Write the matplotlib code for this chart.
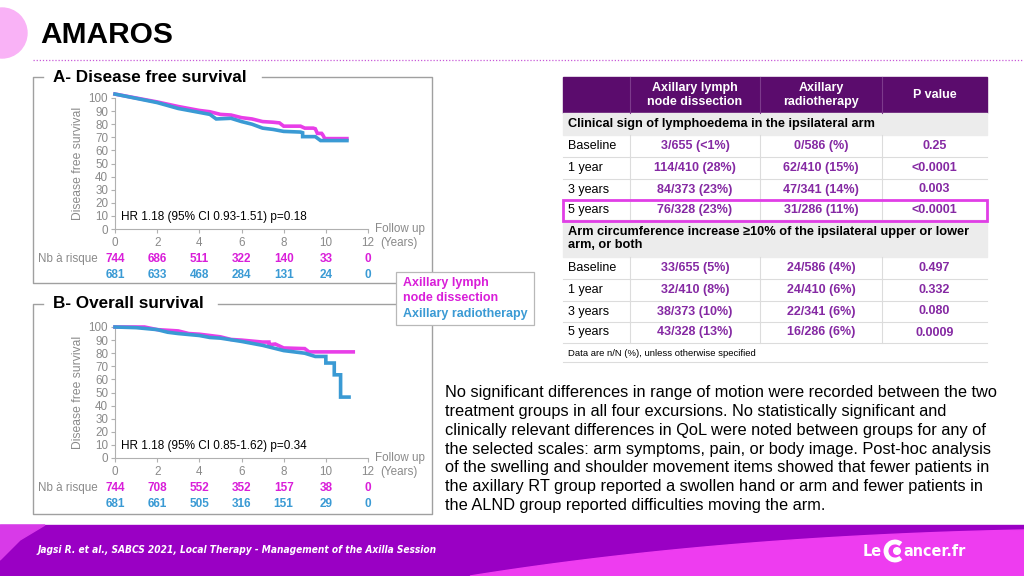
import numpy as np
import matplotlib
matplotlib.use('Agg')
import matplotlib.pyplot as plt
from matplotlib.patches import Rectangle, Circle, Polygon, Arc

plt.rcParams['font.family'] = ['Liberation Sans', 'DejaVu Sans']

W, H = 1024, 576

# ---- Kaplan-Meier curves (years, %); repeated times are drops
dfs_alnd_t = [0, 2, 3, 4, 4.5, 5, 5.5, 6, 6.5, 7, 7.5, 7.8, 8, 8.8, 9.0, 9.4, 9.5, 9.6, 9.8, 9.85, 9.95, 11]
dfs_alnd_s = [103, 97, 93.5, 90.5, 89.5, 87.5, 87, 85, 84, 82, 81.5, 81, 78.5, 78.5, 77, 77, 76.5, 73, 73, 72, 69, 69]
dfs_rt_t = [0, 2, 3, 4, 4.5, 4.8, 5.5, 6, 6.5, 7, 7.5, 8, 8.8, 8.9, 8.9, 9.5, 9.75, 11]
dfs_rt_s = [103, 96.5, 92, 89, 87.5, 84, 84.5, 82, 80, 77, 76, 74.5, 74, 73.5, 70.5, 70.5, 67.5, 67.5]

os_alnd_t = [0, 1.4, 2, 3, 3.5, 4, 5, 5.5, 6, 7, 7.3, 7.3, 7.6, 8, 9, 9.2, 11.3]
os_alnd_s = [100, 100, 98, 97, 95, 94.5, 92.5, 90.5, 90, 88.5, 88.5, 86.5, 87, 84, 83.5, 81, 81]
os_rt_t = [0, 1, 2, 2.5, 3, 4, 4.5, 5, 6, 7, 7.5, 8, 9, 9.5, 10, 10, 10.4, 10.4, 10.7, 10.7, 11.1]
os_rt_s = [100, 99.5, 98, 96, 95, 93.5, 92, 91.5, 89, 86, 84, 82, 80, 77.5, 77.5, 72.5, 72.5, 63.5, 63.5, 46.5, 46.5]

risk_years = [0, 2, 4, 6, 8, 10, 12]
dfs_risk_alnd = [744, 686, 511, 322, 140, 33, 0]
dfs_risk_rt = [681, 633, 468, 284, 131, 24, 0]
os_risk_alnd = [744, 708, 552, 352, 157, 38, 0]
os_risk_rt = [681, 661, 505, 316, 151, 29, 0]

# ---- table data
table_cols = ['', 'Axillary lymph\nnode dissection', 'Axillary\nradiotherapy', 'P value']
row_labels = ['Baseline', '1 year', '3 years', '5 years']
lymph_alnd = ['3/655 (<1%)', '114/410 (28%)', '84/373 (23%)', '76/328 (23%)']
lymph_rt = ['0/586 (%)', '62/410 (15%)', '47/341 (14%)', '31/286 (11%)']
lymph_p = ['0.25', '<0.0001', '0.003', '<0.0001']
circ_alnd = ['33/655 (5%)', '32/410 (8%)', '38/373 (10%)', '43/328 (13%)']
circ_rt = ['24/586 (4%)', '24/410 (6%)', '22/341 (6%)', '16/286 (6%)']
circ_p = ['0.497', '0.332', '0.080', '0.0009']

paragraph = [
    'No significant differences in range of motion were recorded between the two',
    'treatment groups in all four excursions. No statistically significant and',
    'clinically relevant differences in QoL were noted between groups for any of',
    'the selected scales: arm symptoms, pain, or body image. Post-hoc analysis',
    'of the swelling and shoulder movement items showed that fewer patients in',
    'the axillary RT group reported a swollen hand or arm and fewer patients in',
    'the ALND group reported difficulties moving the arm.',
]

MAG = '#e83ee8'
MAGT = '#d91ed9'
BLUE = '#3a9ad4'
GRAY = '#8a8a8a'
PURP = '#5b0c6d'
VAL = '#8529a3'

fig = plt.figure(figsize=(W / 100, H / 100), dpi=100)
bg = fig.add_axes([0, 0, 1, 1], zorder=0)
bg.set_xlim(0, W)
bg.set_ylim(H, 0)
bg.axis('off')

# header
bg.add_patch(Circle((2, 33), 25, color='#f9b2f6', zorder=1))
bg.text(40, 35, 'AMAROS', fontsize=21.5, fontweight='bold', va='center', ha='left')
bg.plot([33, W], [60, 60], color='#c85ad8', lw=0.9, ls=(0, (1, 1.5)))


def panel_frame(top, bottom, title, title_end):
    c = '#a0a0a0'
    bg.plot([43, 33, 33, 432, 432, title_end], [top, top, bottom, bottom, top, top], color=c, lw=1)
    bg.text(53, top, title, fontsize=12.3, fontweight='bold', va='center', ha='left')


panel_frame(77, 283, 'A- Disease free survival', 262)
panel_frame(304, 514, 'B- Overall survival', 218)


def km_axes(top, bottom, t1, s1, t2, s2, r1, r2, hr):
    ax = fig.add_axes([115 / W, 1 - bottom / H, (368 - 115) / W, (bottom - top) / H], zorder=1)
    ax.patch.set_alpha(0)
    ax.plot(t1, s1, color=MAG, lw=2.6, clip_on=False, zorder=3, solid_joinstyle='miter')
    ax.plot(t2, s2, color=BLUE, lw=2.6, clip_on=False, zorder=4, solid_joinstyle='miter')
    ax.set_xlim(0, 12)
    ax.set_ylim(0, 100)
    ax.set_xticks(range(0, 13, 2))
    ax.set_yticks(range(0, 101, 10))
    for s in ['top', 'right']:
        ax.spines[s].set_visible(False)
    for s in ['left', 'bottom']:
        ax.spines[s].set_color('#b0b0b0')
        ax.spines[s].set_linewidth(0.8)
    ax.tick_params(colors='#b0b0b0', labelcolor=GRAY, labelsize=8.4, length=3, width=0.8)
    ax.tick_params(axis='x', pad=3)
    ax.tick_params(axis='y', pad=2)
    ax.set_ylabel('Disease free survival', color=GRAY, fontsize=8.7, labelpad=3)
    ax.text(0.3, 9, hr, fontsize=8.5, va='center', ha='left')
    ax.text(12.35, 0, 'Follow up', color=GRAY, fontsize=8.4, va='center', ha='left', clip_on=False)
    ax.text(12.6, -11, '(Years)', color=GRAY, fontsize=8.4, va='center', ha='left', clip_on=False)
    ax.text(-0.8, -23, 'Nb à risque', color=GRAY, fontsize=8.4, va='center', ha='right', clip_on=False)
    for x, a, b in zip(risk_years, r1, r2):
        ax.text(x, -23, str(a), color=MAGT, fontsize=8.5, fontweight='bold', ha='center', va='center', clip_on=False)
        ax.text(x, -35.3, str(b), color=BLUE, fontsize=8.5, fontweight='bold', ha='center', va='center', clip_on=False)
    return ax


km_axes(98, 229, dfs_alnd_t, dfs_alnd_s, dfs_rt_t, dfs_rt_s, dfs_risk_alnd, dfs_risk_rt,
        'HR 1.18 (95% CI 0.93-1.51) p=0.18')
km_axes(327, 458, os_alnd_t, os_alnd_s, os_rt_t, os_rt_s, os_risk_alnd, os_risk_rt,
        'HR 1.18 (95% CI 0.85-1.62) p=0.34')

# legend box
bg.add_patch(Rectangle((396, 272), 138, 53, facecolor='white', edgecolor='#b8b8b8', lw=0.9, zorder=5))
bg.text(403, 283, 'Axillary lymph', color=MAGT, fontsize=9, fontweight='bold', va='center', zorder=6)
bg.text(403, 298, 'node dissection', color=MAGT, fontsize=9, fontweight='bold', va='center', zorder=6)
bg.text(403, 314, 'Axillary radiotherapy', color=BLUE, fontsize=9, fontweight='bold', va='center', zorder=6)

# table
cx = [563, 630, 760, 882, 987]
ccen = [(cx[i] + cx[i + 1]) / 2 for i in range(4)]
bg.add_patch(Rectangle((cx[0], 77), cx[4] - cx[0], 36, color=PURP, zorder=2))
for i in range(1, 4):
    bg.plot([cx[i], cx[i]], [77, 113], color='#7d3a8c', lw=0.8, zorder=3)
    bg.text(ccen[i], 95, table_cols[i], color='white', fontsize=9, fontweight='bold',
            ha='center', va='center', linespacing=1.2, zorder=4)


def section(top, bottom, label):
    bg.add_patch(Rectangle((cx[0], top), cx[4] - cx[0], bottom - top, color='#ececec', zorder=2))
    bg.text(568, (top + bottom) / 2, label, fontsize=9.2, fontweight='bold', va='center',
            ha='left', linespacing=1.2, zorder=4)


def rows(edges, a, b, p):
    for k in range(4):
        t, btm = edges[k], edges[k + 1]
        yc = (t + btm) / 2
        bg.plot([cx[0], cx[4]], [btm, btm], color='#dcdcdc', lw=0.8, zorder=3)
        for i in range(1, 4):
            bg.plot([cx[i], cx[i]], [t, btm], color='#dcdcdc', lw=0.8, zorder=3)
        bg.text(568, yc, row_labels[k], fontsize=9, va='center', ha='left', zorder=4)
        bg.text(ccen[1], yc, a[k], color=VAL, fontsize=9, fontweight='bold', va='center', ha='center', zorder=4)
        bg.text(ccen[2], yc, b[k], color=VAL, fontsize=9, fontweight='bold', va='center', ha='center', zorder=4)
        bg.text(ccen[3], yc, p[k], color=VAL, fontsize=9, fontweight='bold', va='center', ha='center', zorder=4)


section(113, 135, 'Clinical sign of lymphoedema in the ipsilateral arm')
rows([135, 157, 179, 200, 220], lymph_alnd, lymph_rt, lymph_p)
section(220, 257, 'Arm circumference increase ≥10% of the ipsilateral upper or lower\narm, or both')
rows([257, 279, 301, 322, 343], circ_alnd, circ_rt, circ_p)
bg.text(568, 353, 'Data are n/N (%), unless otherwise specified', fontsize=6.8, va='center', ha='left')
bg.plot([cx[0], cx[4]], [362, 362], color='#dcdcdc', lw=0.8)
bg.add_patch(Rectangle((cx[0], 200), cx[4] - cx[0], 20.5, fill=False, edgecolor='#e03ee6', lw=2, zorder=5))

# paragraph
for i, line in enumerate(paragraph):
    bg.text(445, 393 + i * 18.7, line, fontsize=11.8, va='center', ha='left')

# footer
bg.add_patch(Rectangle((0, 525), W, H - 525, color='#9a00c4', zorder=1))
bg.add_patch(Polygon([(0, 525), (45, 525), (20, 540), (0, 560)], closed=True, color='#d83ae8', zorder=2))
tt = np.linspace(0, 1, 50)
bx = (1 - tt) ** 2 * 470 + 2 * (1 - tt) * tt * 720 + tt ** 2 * W
by = (1 - tt) ** 2 * 576 + 2 * (1 - tt) * tt * 536 + tt ** 2 * 530
bg.add_patch(Polygon(list(zip(bx, by)) + [(W, H)], closed=True, color='#ee3cf0', zorder=2))
bg.text(38, 550, 'Jagsi R. et al., SABCS 2021, Local Therapy - Management of the Axilla Session',
        color='white', fontsize=7.3, fontweight='bold', style='italic', family='DejaVu Sans',
        fontstretch='condensed', va='center', zorder=3)
bg.text(863, 551, 'Le', color='white', fontsize=11.5, fontweight='bold', family='DejaVu Sans',
        fontstretch='condensed', va='center', zorder=3)
bg.add_patch(Arc((895, 551), 18, 18, theta1=50, theta2=310, color='white', lw=3.5, zorder=3))
bg.add_patch(Circle((897, 551), 3.3, color='white', zorder=3))
bg.text(903, 551, 'ancer.fr', color='white', fontsize=11.5, fontweight='bold', family='DejaVu Sans',
        fontstretch='condensed', va='center', zorder=3)

fig.savefig('out.png', dpi=100)
